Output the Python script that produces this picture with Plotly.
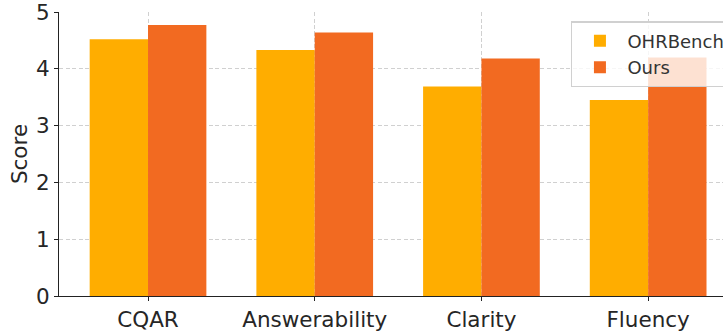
import plotly.graph_objects as go

categories = ["CQAR", "Answerability", "Clarity", "Fluency"]
ohrbench = [4.52, 4.33, 3.69, 3.45]
ours = [4.77, 4.64, 4.18, 4.20]
series_names = ["OHRBench", "Ours"]
colors = ["#FFAD00", "#F26A21"]
y_ticks = [0, 1, 2, 3, 4, 5]

fig = go.Figure()
for name, vals, c in zip(series_names, [ohrbench, ours], colors):
    fig.add_trace(go.Bar(x=categories, y=vals, name=name, marker_color=c,
                         marker_line_width=0))

font = "DejaVu Sans"
fig.update_layout(
    width=723, height=331,
    margin=dict(l=59, r=0, t=12, b=35, autoexpand=False),
    plot_bgcolor="white", paper_bgcolor="white",
    barmode="group", bargap=0.3, bargroupgap=0,
    font=dict(family=font, size=21.5, color="#262626"),
    showlegend=True,
    legend=dict(x=0.771, y=0.968, xanchor="left", yanchor="top",
                bgcolor="rgba(255,255,255,0.8)", bordercolor="#d0d0d0",
                borderwidth=1.5, font=dict(size=18, color="#333333"),
                tracegroupgap=0, itemwidth=45),
)
grid = dict(showgrid=True, gridcolor="#d0d0d0", griddash="4px,2.5px", gridwidth=1)
fig.update_xaxes(range=[-0.534, 3.449], showline=True, linecolor="#222222",
                 linewidth=1.2, ticks="outside", ticklen=4, tickcolor="#222222",
                 tickfont=dict(size=21.5), automargin=False, **grid)
fig.update_yaxes(range=[0, 5.0005], tickmode="array", tickvals=y_ticks,
                 ticktext=[str(v) for v in y_ticks],
                 showline=True, linecolor="#222222",
                 linewidth=1.2, ticks="outside", ticklen=4, tickcolor="#222222",
                 title=dict(text="Score", font=dict(size=21.5), standoff=2),
                 tickfont=dict(size=21.5), zeroline=False, automargin=False,
                 ticklabeloverflow="allow", **grid)

fig.write_html("out.html")
